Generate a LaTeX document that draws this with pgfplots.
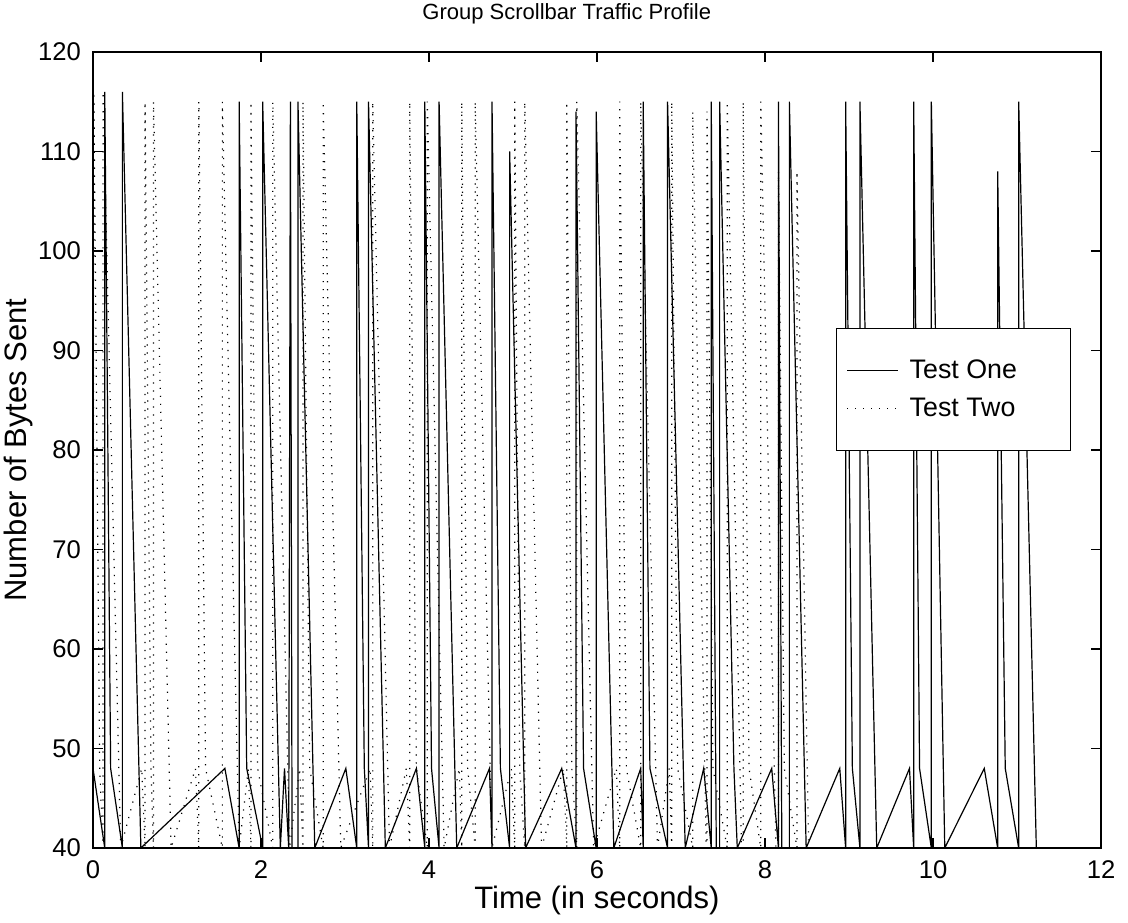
\documentclass[border=0pt]{standalone}
\usepackage{pgfplots}
\pgfplotsset{compat=1.18}
\usepackage{fontspec}
\setmainfont{Liberation Sans}
\begin{document}
\begin{tikzpicture}
\begin{axis}[
  scale only axis, width=504pt, height=398pt,
  xmin=0, xmax=12, ymin=40, ymax=120,
  xtick={0,2,...,12}, ytick={40,50,...,120},
  tick align=inside, major tick length=5pt,
  axis line style={line width=0.6pt, black},
  every tick/.style={line width=0.6pt, black},
  /pgf/number format/assume math mode=true,
  ticklabel style={font=\fontsize{12.8}{14}\selectfont},
  xticklabel style={yshift=-3pt},
  yticklabel style={xshift=-2.5pt},
  every axis title shift=0pt,
  title={Group Scrollbar Traffic Profile},
  title style={font=\fontsize{11}{13}\selectfont, at={(axis description cs:0.47,1.0477)}, anchor=center},
  xlabel={Time (in seconds)},
  xlabel style={font=\fontsize{15.5}{17}\selectfont, at={(axis description cs:0.5,-0.0653)}, anchor=center},
  ylabel={Number of Bytes Sent},
  ylabel style={font=\fontsize{15.5}{17}\selectfont, at={(axis description cs:-0.0744,0.5)}, anchor=center},
  legend style={at={(axis description cs:0.737,0.653)}, anchor=north west,
    draw=black, line width=0.6pt, fill=white, inner xsep=5pt, inner ysep=11.5pt,
    font=\fontsize{13.4}{15}\selectfont,
    nodes={inner sep=0pt, minimum height=19pt}, row sep=0pt},
  legend cell align=left,
  /tikz/every odd column/.append style={column sep=5.5pt},
  legend image code/.code={\draw[#1, line width=0.6pt] (0pt,0pt) -- (25.5pt,0pt);},
]
\addplot[black, line width=0.6pt] coordinates {
(0,48) (0.14,40) (0.14,116) (0.21,48) (0.35,40) (0.35,116) (0.57,40) (1.57,48) (1.74,40)
(1.74,115) (1.83,48) (2.02,40) (2.02,115) (2.23,40) (2.28,48) (2.33,40) (2.35,115) (2.37,40)
(2.44,40) (2.44,115) (2.64,40) (3.01,48) (3.14,40) (3.14,115) (3.23,48) (3.28,40) (3.28,115)
(3.48,40) (3.85,48) (3.95,40) (3.95,115) (4.03,48) (4.12,40) (4.12,115) (4.33,40) (4.72,48)
(4.75,40) (4.75,115) (4.85,48) (4.96,40) (4.96,110) (5.15,40) (5.58,48) (5.75,40) (5.75,114)
(5.84,48) (5.99,40) (5.99,114) (6.20,40) (6.52,48) (6.55,40) (6.55,115) (6.63,48) (6.84,40)
(6.84,115) (7.05,40) (7.27,48) (7.36,40) (7.36,115) (7.42,40) (7.46,40) (7.46,115) (7.63,48)
(7.67,40) (8.08,48) (8.16,40) (8.16,115) (8.20,40) (8.29,40) (8.29,115) (8.49,40) (8.89,48)
(8.96,40) (8.96,115) (9.04,48) (9.13,40) (9.13,115) (9.33,40) (9.72,48) (9.77,40) (9.77,115)
(9.84,48) (9.98,40) (9.98,115) (10.14,40) (10.61,48) (10.77,40) (10.77,108) (10.86,48)
(11.02,40) (11.02,115) (11.23,40)
};
\addlegendentry{\makebox[75.5pt][l]{Test One}}
\addplot[black, line width=0.6pt, dash pattern=on 0.6pt off 3.4pt] coordinates {
(0,40) (0.01,116) (0.08,48) (0.12,40) (0.12,116) (0.33,40) (0.58,48) (0.62,40)
(0.62,115) (0.69,48) (0.72,40) (0.72,115) (0.93,40) (1.22,48) (1.26,40)
(1.26,115) (1.34,48) (1.54,40) (1.54,115) (1.74,40) (1.85,48) (1.88,40)
(1.88,115) (1.96,48) (2.14,40) (2.14,115) (2.34,40) (2.46,48) (2.50,40)
(2.50,115) (2.58,48) (2.74,40) (2.74,115) (2.95,40) (3.30,48) (3.33,40)
(3.33,115) (3.53,40) (3.73,48) (3.77,40)
(3.77,115) (3.85,48) (3.98,40) (3.98,115) (4.18,40) (4.36,48) (4.39,40)
(4.39,115) (4.46,48) (4.55,40) (4.55,115) (4.75,40) (4.98,48) (5.02,40)
(5.02,115) (5.08,48) (5.14,40) (5.14,115) (5.34,40) (5.60,48) (5.64,40)
(5.64,115) (5.70,48) (5.76,40) (5.76,115) (5.96,40) (6.23,48) (6.27,40)
(6.27,115) (6.35,48) (6.52,40) (6.52,115) (6.72,40) (6.86,48) (6.89,40)
(6.89,115) (6.96,48) (7.14,40) (7.14,114) (7.30,40) (7.31,40)
(7.31,114) (7.38,48) (7.55,40) (7.55,115) (7.72,40) (7.74,40)
(7.74,115) (7.81,48) (7.95,40) (7.95,115) (8.13,40) (8.16,40)
(8.16,108) (8.23,48) (8.38,40) (8.38,108) (8.52,40)
};
\addlegendentry{\makebox[75.5pt][l]{Test Two}}
\end{axis}
\pgfresetboundingbox
\path ([shift={(-46.5pt,-37pt)}]current axis.south west) rectangle ([shift={(13.5pt,26pt)}]current axis.north east);
\end{tikzpicture}
\end{document}
